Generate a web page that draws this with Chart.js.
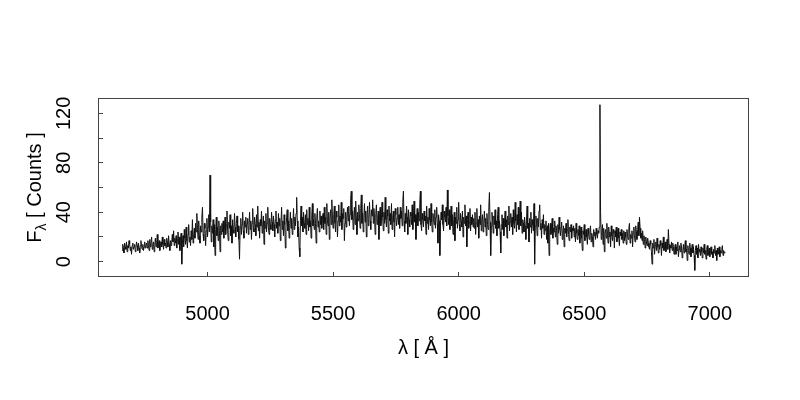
<!DOCTYPE html>
<html>
<head>
<meta charset="utf-8">
<script src="https://cdn.jsdelivr.net/npm/chart.js@4"></script>
<style>
  html, body { margin: 0; padding: 0; background: #fff; }
  #wrap { width: 800px; height: 400px; }
</style>
</head>
<body>
<div id="wrap"><canvas id="spec" width="800" height="400"></canvas></div>
<script>
const lambdaStart = 4660;
const lambdaStep = 2.5;
const flux = [
  // 4660
  9, 14, 11, 7, 15, 12, 10, 16, 8, 13, 11, 17, 14, 9, 12, 6, 13, 15, 10, 12,
  14, 8, 11, 16, 13, 9, 15, 11, 7, 13, 17, 12, 10, 14, 9, 12, 16, 11, 13, 15,
  // 4760
  11, 17, 13, 9, 18, 12, 15, 20, 10, 14, 16, 8, 13, 19, 12, 15, 22, 11, 14, 17,
  9, 13, 16, 12, 20, 14, 10, 18, 13, 15, 11, 19, 16, 12, 21, 14, 9, 17, 13, 16,
  // 4860
  22, 16, 25, 13, 19, 15, 21, 11, 18, 24, 14, 20, 9, 17, 23, -2, 15, 21, 12, 26,
  19, 14, 28, 17, 11, 22, 30, 16, 20, 13, 25, 18, 34, 15, 22, 27, 19, 31, 24, 39,
  // 4960, [OIII] 5007
  26, 18, 33, 21, 15, 29, 24, 36, 44, 22, 17, 31, 27, 13, 25, 35, 20, 28, 38, 24,
  70, 32, 16, 29, 23, 34, 12, 30, 5, 26, 36, 21, 28, 17, 33, 25, 8, 29, 22, 31,
  // 5060
  24, 33, 19, 28, 36, 22, 30, 41, 25, 17, 32, 27, 38, 21, 29, 15, 34, 26, 23, 39,
  28, 20, 31, 37, 24, 29, 18, 2, 27, 35, 22, 30, 40, 25, 19, 33, 28, 36, 23, 31,
  // 5160
  35, 22, 29, 40, 26, 33, 18, 31, 43, 27, 24, 36, 30, 21, 38, 28, 45, 25, 32, 19,
  34, 29, 41, 23, 30, 37, 14, 33, 27, 39, 24, 31, 44, 28, 22, 35, 30, 26, 40, 32,
  // 5260
  25, 37, 30, 20, 34, 41, 27, 32, 23, 39, 29, 35, 17, 31, 44, 26, 33, 21, 38, 30,
  11, 28, 36, 42, 25, 33, 19, 31, 40, 27, 35, 22, 30, 43, 26, 36, 29, 39, 52, 33,
  // 5360
  20, 28, 11, 4, 33, 45, 29, 36, 24, 40, 31, 27, 38, 22, 42, 30, 35, 25, 44, 28,
  33, 19, 37, 47, 29, 34, 26, 39, 31, 15, 36, 43, 28, 33, 24, 41, 30, 37, 27, 34,
  // 5460
  39, 26, 44, 31, 36, 22, 47, 33, 29, 40, 18, 35, 42, 30, 50, 34, 27, 38, 45, 31,
  24, 41, 36, 20, 33, 46, 29, 37, 32, 48, 26, 39, 35, 43, 17, 31, 40, 28, 36, 44,
  // 5560
  33, 45, 29, 38, 51, 57, 34, 41, 26, 37, 44, 30, 49, 35, 22, 40, 33, 46, 38, 27,
  43, 54, 31, 39, 24, 36, 47, 32, 41, 20, 38, 45, 29, 35, 48, 33, 26, 42, 37, 50,
  // 5660
  31, 43, 36, 22, 39, 46, 30, 35, 41, 18, 37, 44, 29, 33, 48, 36, 25, 40, 31, 52,
  34, 28, 42, 37, 23, 45, 33, 39, 30, 47, 26, 36, 41, 32, 20, 43, 38, 29, 35, 44,
  // 5760
  30, 38, 27, 44, 35, 41, 29, 48, 57, 33, 24, 39, 31, 45, 36, 22, 42, 34, 28, 40,
  37, 30, 46, 26, 35, 49, 32, 38, 18, 36, 43, 29, 40, 33, 47, 57, 30, 25, 39, 34,
  // 5860
  28, 41, 33, 37, 22, 45, 31, 36, 26, 43, 34, 29, 47, 32, 24, 39, 35, 30, 42, 27,
  36, 44, 31, 15, 38, 33, 5, 29, 40, 34, 46, 30, 25, 41, 36, 32, 44, 29, 58, 37,
  // 5960
  30, 42, 26, 35, 45, 29, 38, 22, 33, 40, 17, 36, 31, 44, 27, 34, 48, 30, 25, 39,
  33, 28, 41, 20, 36, 31, 46, 29, 37, 12, 34, 40, 27, 32, 43, 25, 36, 30, 38, 28,
  // 6060
  35, 27, 40, 22, 31, 43, 28, 34, 19, 37, 30, 46, 25, 33, 38, 24, 31, 41, 28, 35,
  21, 39, 30, 26, 44, 56, 32, 5, 29, 40, 34, 23, 37, 30, 42, 27, 33, 21, 38, 44,
  // 6160
  27, 33, 24, 7, 30, 38, 26, 35, 21, 31, 41, 28, 34, 19, 37, 30, 45, 25, 32, 39,
  28, 36, 22, 42, 31, 27, 48, 33, 24, 38, 30, 44, 26, 35, 49, 29, 40, 23, 34, 31,
  // 6260
  24, 36, 29, 18, 33, 45, 27, 31, 16, 35, 28, 40, 23, 34, 30, 25, 47, -2, 29, 37,
  32, 21, 35, 28, 41, 46, 26, 31, 19, 34, 27, 38, 22, 30, 25, 33, 18, 29, 15, 31,
  // 6360
  5, 26, 31, 22, 28, 35, 19, 27, 24, 33, 20, 29, 25, 14, 30, 23, 36, 26, 21, 28,
  32, 18, 25, 29, 12, 27, 23, 31, 20, 26, 34, 22, 17, 28, 24, 30, 19, 27, 25, 29,
  // 6460
  20, 27, 16, 31, 23, 18, 26, 21, 29, 15, 24, 28, 19, 9, 25, 22, 30, 17, 23, 26,
  20, 14, 27, 22, 18, 25, 29, 16, 23, 20, 12, 26, 21, 24, 18, 27, 22, 19, 25, 23,
  // 6560, H-alpha
  28, 127, 40, 18, 25, 30, 14, 27, 8, 23, 26, 19, 31, 22, 15, 28, 20, 24, 12, 29,
  21, 17, 26, 23, 11, 25, 20, 28, 16, 22, 27, 19, 13, 24, 21, 26, 18, 23, 15, 25,
  // 6660, [SII]
  17, 24, 20, 14, 26, 21, 18, 27, 31, 15, 22, 19, 25, 12, 23, 28, 20, 16, 29, 24,
  18, 26, 32, 21, 36, 27, 19, 23, 17, 25, 14, 21, 18, 11, 20, 16, 13, 19, 15, 12,
  // 6760
  10, 17, 14, 8, -2, 15, 11, 18, 6, 13, 16, 9, 19, 12, 7, 14, 10, 17, 13, 5,
  15, 11, 20, 9, 13, 16, 8, 12, 18, 10, 26, 14, 7, 13, 11, 16, 9, 15, 12, 6,
  // 6860
  11, 14, 6, 12, 9, 16, 4, 10, 13, 8, 15, 11, 3, 9, 14, 7, 12, 17, 8, 10,
  1, 13, 9, 6, 15, 11, 4, 10, 14, 7, 12, 5, -7, 9, 13, 6, 11, 3, 14, 8,
  // 6960
  10, 5, 12, 8, 3, 11, 7, 14, 6, 9, 2, 10, 13, 5, 8, 11, 4, 9, 12, 6,
  8, 3, 10, 7, 13, 5, 9, 1, 11, 6, 8, 12, 4, 9, 7, 10, 13, 5, 9, 7,
  // 7060
  8
];
const xTicks = [5000, 5500, 6000, 6500, 7000];
const yTicks = [0, 20, 40, 60, 80, 100, 120];
const yLabels = [0, 40, 80, 120];

const FONT = '"Liberation Sans", Arial, Helvetica, sans-serif';
const FS = 20;
const boxColor = '#444';

const wavelength = flux.map((_, i) => lambdaStart + i * lambdaStep);

// y labels are rotated like R, and the y title has a subscript
const axisText = {
  id: 'axisText',
  afterDraw(chart) {
    const ctx = chart.ctx, ys = chart.scales.y, a = chart.chartArea;
    ctx.save();
    ctx.fillStyle = '#000';
    ctx.font = FS + 'px ' + FONT;
    ctx.textAlign = 'center';
    ctx.textBaseline = 'alphabetic';
    yLabels.forEach(v => {
      ctx.save();
      ctx.translate(70, ys.getPixelForValue(v));
      ctx.rotate(-Math.PI / 2);
      ctx.fillText(String(v), 0, 0);
      ctx.restore();
    });

    // F_lambda [ Counts ]
    const subFont = Math.round(FS * 0.72) + 'px ' + FONT;
    ctx.font = FS + 'px ' + FONT;
    const wF = ctx.measureText('F').width;
    const wRest = ctx.measureText(' [ Counts ]').width;
    ctx.font = subFont;
    const wL = ctx.measureText('λ').width;
    const total = wF + wL + wRest;
    ctx.save();
    ctx.translate(41, (a.top + a.bottom) / 2);
    ctx.rotate(-Math.PI / 2);
    ctx.textAlign = 'left';
    const x0 = -total / 2;
    ctx.font = FS + 'px ' + FONT;
    ctx.fillText('F', x0, 0);
    ctx.font = subFont;
    ctx.fillText('λ', x0 + wF, 5);
    ctx.font = FS + 'px ' + FONT;
    ctx.fillText(' [ Counts ]', x0 + wF + wL, 0);
    ctx.restore();

    ctx.strokeStyle = boxColor;
    ctx.lineWidth = 1;
    ctx.strokeRect(a.left + 0.5, a.top + 0.5, a.right - a.left - 1, a.bottom - a.top - 1);
    ctx.restore();
  }
};

new Chart(document.getElementById('spec'), {
  type: 'line',
  data: {
    datasets: [{
      data: wavelength.map((x, i) => ({ x: x, y: flux[i] })),
      borderColor: '#111',
      borderWidth: 1,
      pointRadius: 0,
      tension: 0,
      fill: false
    }]
  },
  options: {
    responsive: false,
    animation: false,
    layout: { padding: { left: 0, top: 98, right: 51, bottom: 0 } },
    plugins: { legend: { display: false }, tooltip: { enabled: false } },
    scales: {
      x: {
        type: 'linear',
        min: 4564, max: 7156,
        afterBuildTicks: s => { s.ticks = xTicks.map(v => ({ value: v })); },
        afterFit: s => { s.height = 123; },
        border: { display: false },
        grid: { drawOnChartArea: false, drawTicks: true, tickLength: -5, color: boxColor },
        ticks: { color: '#000', padding: 30, maxRotation: 0, font: { family: FONT, size: FS }, callback: v => String(v) },
        title: { display: true, text: 'λ [ Å ]', color: '#000', font: { family: FONT, size: FS }, padding: { top: 0, bottom: 40 } }
      },
      y: {
        type: 'linear',
        min: -12.4, max: 132.4,
        afterBuildTicks: s => { s.ticks = yTicks.map(v => ({ value: v })); },
        afterFit: s => { s.width = 98; },
        border: { display: false },
        grid: { drawOnChartArea: false, drawTicks: true, tickLength: -5, color: boxColor },
        ticks: { display: false }
      }
    }
  },
  plugins: [axisText]
});
</script>
</body>
</html>
